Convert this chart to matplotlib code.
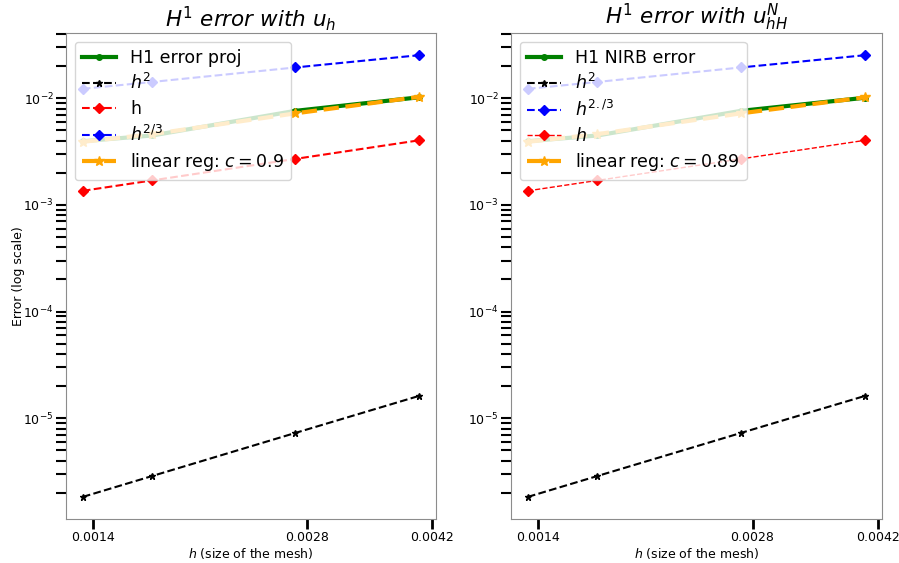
import matplotlib
matplotlib.use('Agg')
import matplotlib.pyplot as plt
from matplotlib.ticker import NullLocator, FixedLocator, FixedFormatter

# mesh sizes
h = [0.001354, 0.001695, 0.002694, 0.00403]
h2 = [1.83e-6, 2.87e-6, 7.26e-6, 1.62e-5]
h1 = [1.354e-3, 1.695e-3, 2.694e-3, 4.03e-3]
h23 = [1.224e-2, 1.42e-2, 1.94e-2, 2.53e-2]

# H1 errors
err_proj = [3.95e-3, 4.47e-3, 7.6e-3, 1.02e-2]
reg_proj = [3.9e-3, 4.6e-3, 7.2e-3, 1.03e-2]
err_nirb = [3.95e-3, 4.47e-3, 7.6e-3, 1.01e-2]
reg_nirb = [3.9e-3, 4.6e-3, 7.2e-3, 1.02e-2]

xticks = [0.0014, 0.0028, 0.0042]
xticklabels = ['0.0014', '0.0028', '0.0042']

fig = plt.figure(figsize=(8.99, 5.63), dpi=100)
ax1 = fig.add_axes([0.0734, 0.0782, 0.4116, 0.863])
ax2 = fig.add_axes([0.5684, 0.0782, 0.4127, 0.863])


def setup(ax):
    ax.set_xscale('log')
    ax.set_yscale('log')
    ax.xaxis.set_major_locator(FixedLocator(xticks))
    ax.xaxis.set_major_formatter(FixedFormatter(xticklabels))
    ax.xaxis.set_minor_locator(NullLocator())
    ax.tick_params(axis='y', which='both', length=7, width=1.5, labelsize=9, pad=2)
    ax.tick_params(axis='x', which='both', length=7, width=2, labelsize=9, pad=2)
    for s in ax.spines.values():
        s.set_color('0.55')
    ax.set_xlabel('$h$ (size of the mesh)', fontsize=9, labelpad=1)


# left panel
ax1.plot(h, err_proj, color='green', marker='o', markersize=4, lw=3, label='H1 error proj')
ax1.plot(h, h2, 'k--', marker='*', markersize=5, label='$h^2$')
ax1.plot(h, h1, 'r--', marker='D', markersize=5, label='h')
ax1.plot(h, h23, 'b--', marker='D', markersize=5, label='$h^{2/3}$')
ax1.plot(h, reg_proj, color='orange', ls='--', lw=3, marker='*', markersize=7,
         label='linear reg: $c=0.9$')
setup(ax1)
ax1.set_ylabel('Error (log scale)', fontsize=9, labelpad=-1)
ax1.set_title('$H^1\\ error\\ with\\ u_h$', fontsize=15.5, pad=5)
ax1.legend(loc='upper left', fontsize=12.5, labelspacing=0.38)

# right panel
ax2.plot(h, err_nirb, color='green', marker='o', markersize=4, lw=3, label='H1 NIRB error')
ax2.plot(h, h2, 'k--', marker='*', markersize=5, label='$h^2$')
ax2.plot(h, h23, 'b--', marker='D', markersize=5, label='$h^{2./3}$')
ax2.plot(h, h1, 'r--', marker='D', markersize=5, lw=1, label='$h$')
ax2.plot(h, reg_nirb, color='orange', ls='--', lw=3, marker='*', markersize=7,
         label='linear reg: $c=0.89$')
setup(ax2)
ax2.set_title('$H^1\\ error\\ with\\ u_{hH}^N$', fontsize=15.5, pad=5)
ax2.legend(loc='upper left', fontsize=12.5, labelspacing=0.38)

fig.savefig('out.png', dpi=100)
